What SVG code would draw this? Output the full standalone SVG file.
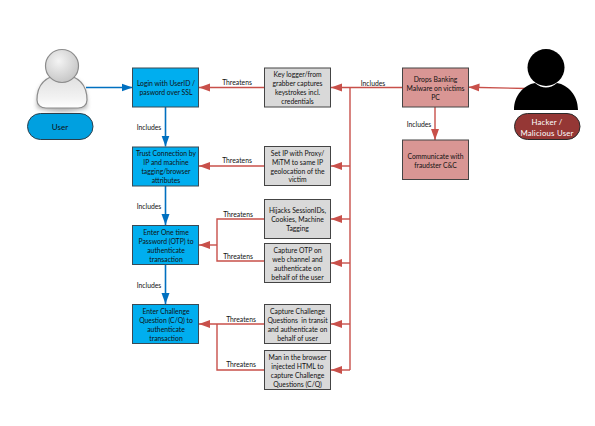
<svg xmlns="http://www.w3.org/2000/svg" width="595" height="426" viewBox="0 0 595 426">
<defs>
<marker id="ab" markerUnits="userSpaceOnUse" markerWidth="11" markerHeight="9" refX="11" refY="4.5" orient="auto"><path d="M0,0.500L11,4.500L0,8.500z" fill="#0070c0"/></marker>
<marker id="ar" markerUnits="userSpaceOnUse" markerWidth="11" markerHeight="9" refX="11" refY="4.5" orient="auto"><path d="M0,0.500L11,4.500L0,8.500z" fill="#c8504a"/></marker>
<radialGradient id="hd" cx="0.4" cy="0.35" r="0.7"><stop offset="0" stop-color="#f4f4f4"/><stop offset="1" stop-color="#c4c4c4"/></radialGradient>
<linearGradient id="bd" x1="0" y1="0" x2="0" y2="1"><stop offset="0" stop-color="#dedede"/><stop offset="0.7" stop-color="#f2f2f2"/><stop offset="1" stop-color="#fff"/></linearGradient>
<filter id="sh" x="-20%" y="-20%" width="140%" height="140%"><feGaussianBlur stdDeviation="2"/></filter>
</defs>
<style>
text{font-family:Lato,"Open Sans","Liberation Sans",sans-serif;font-size:6.8px;fill:#111;text-anchor:middle;white-space:pre}
.b rect{fill:#00aeef;stroke:#3a4a55;stroke-width:1}
.g rect{fill:#d9d9d9;stroke:#444;stroke-width:1}
.r rect{fill:#d99694;stroke:#444;stroke-width:1}
.lb{fill:none;stroke:#0070c0;stroke-width:1.6}
.lr{fill:none;stroke:#c8504a;stroke-width:1.4}
</style>
<g id="connectors">
<path class="lb" d="M86,87.500H132.500" marker-end="url(#ab)"/>
<path class="lb" d="M165.500,107V146.500" marker-end="url(#ab)"/>
<path class="lb" d="M165.500,186V225" marker-end="url(#ab)"/>
<path class="lb" d="M165.500,265V304" marker-end="url(#ab)"/>
<path class="lr" d="M264,87.500H199" marker-end="url(#ar)"/>
<path class="lr" d="M264,166H199" marker-end="url(#ar)"/>
<path class="lr" d="M264,219H217V261H264"/>
<path class="lr" d="M217,245H199" marker-end="url(#ar)"/>
<path class="lr" d="M264,324H199" marker-end="url(#ar)"/>
<path class="lr" d="M217,324V370H264"/>
<path class="lr" d="M402,87.500H331" marker-end="url(#ar)"/>
<path class="lr" d="M350,87.500V370"/>
<path class="lr" d="M350,166H331" marker-end="url(#ar)"/>
<path class="lr" d="M350,219H331" marker-end="url(#ar)"/>
<path class="lr" d="M350,263H331" marker-end="url(#ar)"/>
<path class="lr" d="M350,324H331" marker-end="url(#ar)"/>
<path class="lr" d="M350,370H331" marker-end="url(#ar)"/>
<path class="lr" d="M527,88.500L468.500,87.300" marker-end="url(#ar)"/>
<path class="lr" d="M435,107V140" marker-end="url(#ar)"/>
<text x="149" y="129.500">Includes</text>
<text x="149" y="208.500">Includes</text>
<text x="149" y="287.500">Includes</text>
<text x="237" y="84.500">Threatens</text>
<text x="237" y="163">Threatens</text>
<text x="238" y="216.500">Threatens</text>
<text x="238" y="258.500">Threatens</text>
<text x="241" y="321.500">Threatens</text>
<text x="241" y="366.500">Threatens</text>
<text x="373" y="85.500">Includes</text>
<text x="419" y="126.500">Includes</text>
</g>
<g id="user-icon">
<path d="M37,108C36,88 42,80 62,75C82,80 88,88 87,108Q62,116 37,108Z" fill="#777" opacity="0.55" filter="url(#sh)"/>
<path d="M37,100C37,85 45,76 62,74C79,76 87,85 87,100C87,105 83,108 78,108H46C41,108 37,105 37,100Z" fill="url(#bd)" stroke="#8c8c8c" stroke-width="1.2"/>
<circle cx="62" cy="66" r="16.500" fill="url(#hd)" stroke="#8c8c8c" stroke-width="1.2"/>
</g>
<g id="user">
<rect x="27.500" y="113.500" width="65.500" height="26" rx="13" fill="#00a0e0" stroke="#2c3e4a"/>
<text x="60" y="130" style="font-size:8px">User</text>
</g>
<g id="login" class="b"><rect x="132.500" y="68" width="66" height="39"/><text x="166" y="86">Login with UserID /</text><text x="166" y="95">pasword over SSL</text></g>
<g id="trust" class="b"><rect x="132.500" y="147" width="66" height="39"/><text x="166" y="156">Trust Connection by</text><text x="166" y="165">IP and machine</text><text x="166" y="174">tagging/browser</text><text x="166" y="182.500">attributes</text></g>
<g id="otp" class="b"><rect x="132.500" y="225.500" width="66" height="39"/><text x="166" y="234.500">Enter One time</text><text x="166" y="243.500">Password (OTP) to</text><text x="166" y="252.500">authenticate</text><text x="166" y="261.500">transaction</text></g>
<g id="cq" class="b"><rect x="132.500" y="304.500" width="66" height="39"/><text x="166" y="313.500">Enter Challenge</text><text x="166" y="322.500">Question (C/Q) to</text><text x="166" y="331.500">authenticate</text><text x="166" y="340.500">transaction</text></g>
<g id="keylogger" class="g"><rect x="264.500" y="68" width="66" height="39"/><text x="297.500" y="77">Key logger/from</text><text x="297.500" y="86">grabber captures</text><text x="297.500" y="95">keystrokes incl.</text><text x="297.500" y="103.500">credentials</text></g>
<g id="proxy" class="g"><rect x="264.500" y="146.500" width="66" height="39"/><text x="297.500" y="155.500">Set IP with Proxy/</text><text x="297.500" y="164.500">MiTM to same IP</text><text x="297.500" y="173.500">geolocation of the</text><text x="297.500" y="182">victim</text></g>
<g id="hijack" class="g"><rect x="264.500" y="199.500" width="66" height="39"/><text x="297.500" y="212.500">Hijacks SessionIDs,</text><text x="297.500" y="221.500">Cookies, Machine</text><text x="297.500" y="230.500">Tagging</text></g>
<g id="capture-otp" class="g"><rect x="264.500" y="243.500" width="66" height="39"/><text x="297.500" y="252.500">Capture OTP on</text><text x="297.500" y="261.500">web channel and</text><text x="297.500" y="270.500">authenticate on</text><text x="297.500" y="279.500">behalf of the user</text></g>
<g id="capture-cq" class="g"><rect x="264.500" y="304.500" width="66" height="39"/><text x="297.500" y="313.500">Capture Challenge</text><text x="297.500" y="322.500">Questions  in transit</text><text x="297.500" y="331.500">and authenticate on</text><text x="297.500" y="340.500">behalf of user</text></g>
<g id="mitb" class="g"><rect x="264.500" y="350.500" width="66" height="39"/><text x="297.500" y="359.500">Man in the browser</text><text x="297.500" y="368.500">injected HTML to</text><text x="297.500" y="377.500">capture Challenge</text><text x="297.500" y="386.500">Questions (C/Q)</text></g>
<g id="malware" class="r"><rect x="402.500" y="68" width="66" height="39"/><text x="435.500" y="81.500">Drops Banking</text><text x="435.500" y="90.500">Malware on victims</text><text x="435.500" y="99.500">PC</text></g>
<g id="cnc" class="r"><rect x="402.500" y="140" width="66" height="39.500"/><text x="435.500" y="158.500">Communicate with</text><text x="435.500" y="167.500">fraudster C&amp;C</text></g>
<g id="hacker-icon">
<circle cx="546" cy="67.500" r="18.500" fill="#000"/>
<path d="M514,110C514,95 524,85 535,83Q546,92 557,83C568,85 578,95 578,110Z" fill="#000"/>
</g>
<g id="hacker">
<rect x="514.500" y="113.500" width="65.500" height="26" rx="13" fill="#953735" stroke="#2a2a2a"/>
<text x="547" y="124.500" style="font-size:7.800px;fill:#fff;letter-spacing:.2px">Hacker /</text>
<text x="547" y="136" style="font-size:7.800px;fill:#fff;letter-spacing:.2px">Malicious User</text>
</g>
</svg>
